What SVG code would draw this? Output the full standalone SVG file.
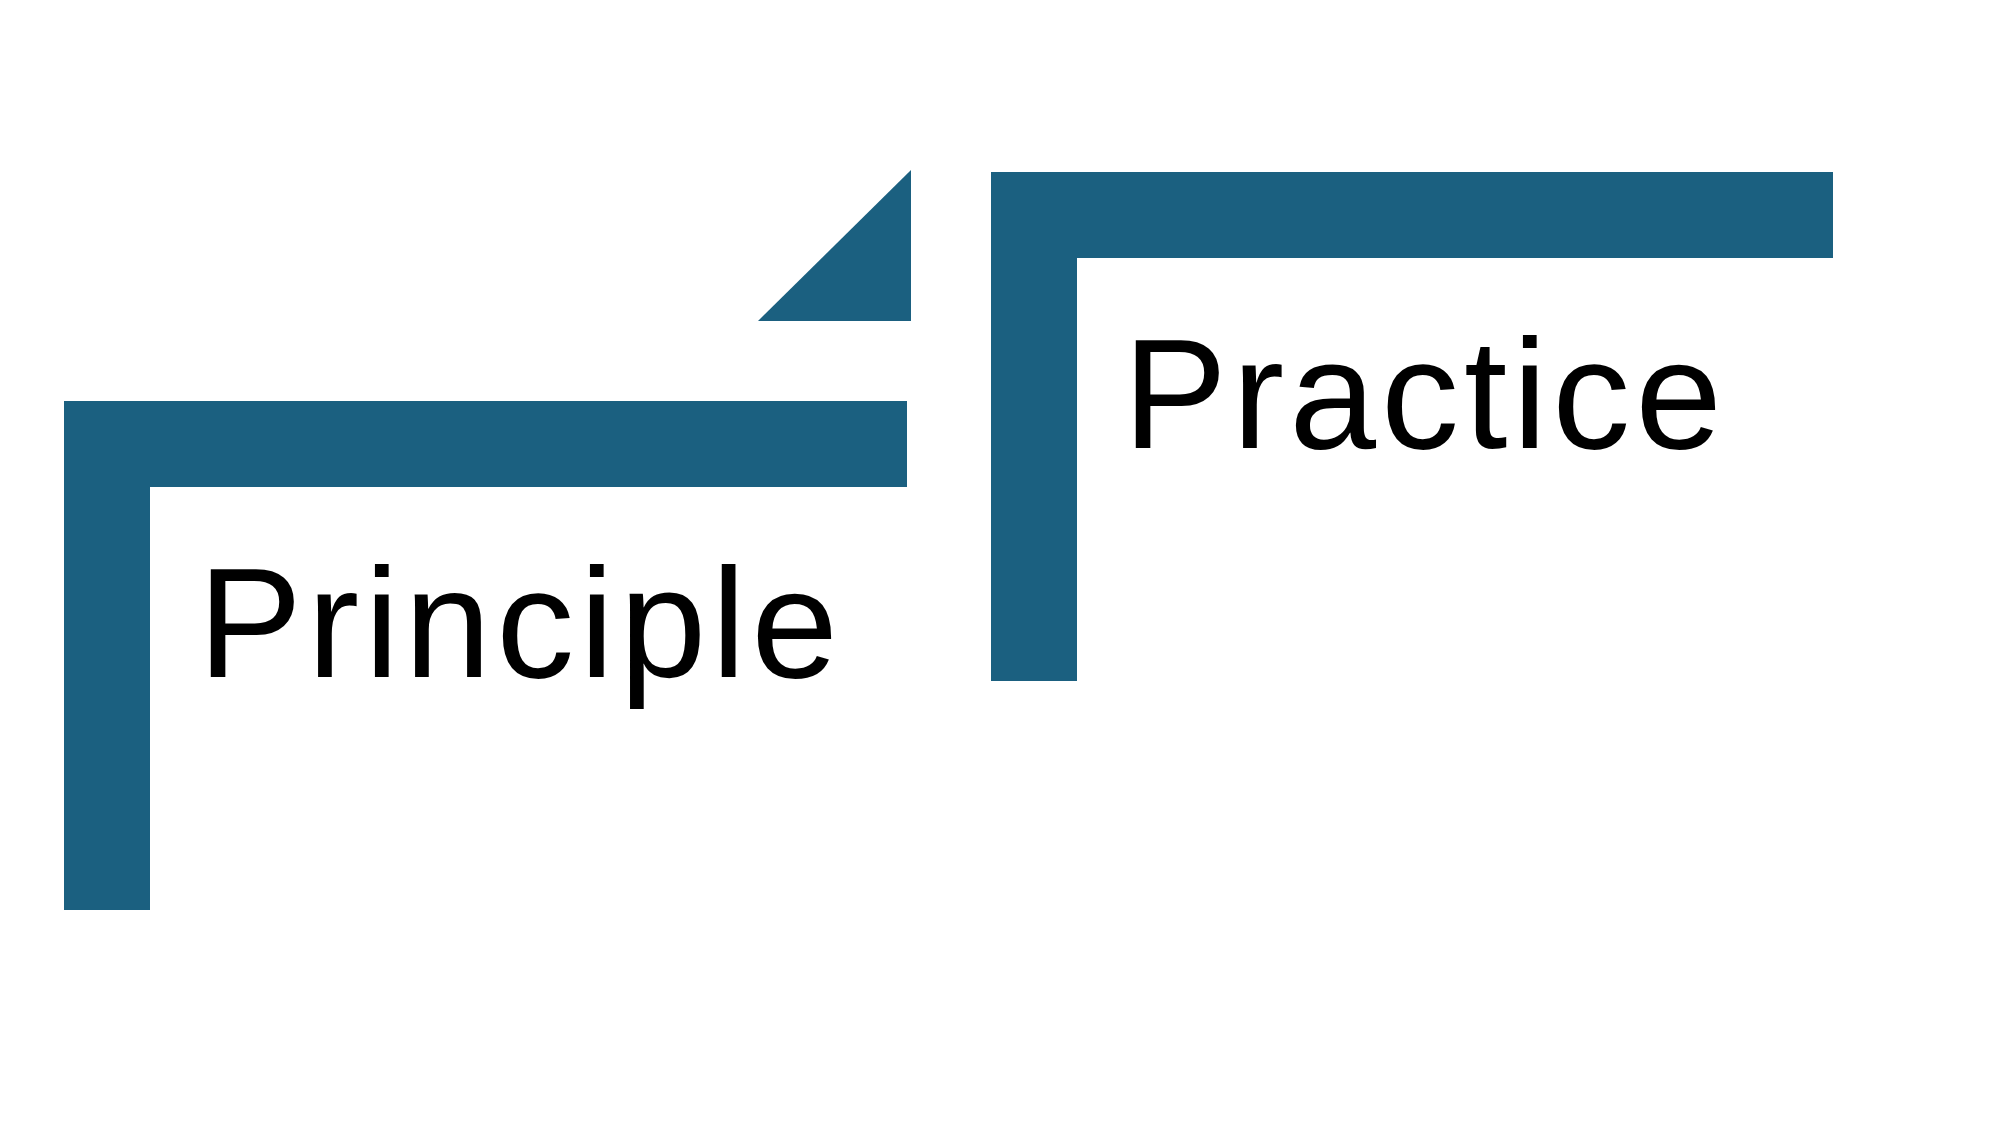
<svg xmlns="http://www.w3.org/2000/svg" width="1996" height="1128" viewBox="0 0 1996 1128">
<style>
.bar{fill:#1b6080}
.lbl{font-family:"Liberation Sans",Arial,sans-serif;font-size:156px;fill:#000}
</style>
<rect width="1996" height="1128" fill="#fff"/>
<g id="principle">
<path class="bar" d="M64 401 H907 V487 H150 V910 H64 Z"/>
<text class="lbl" x="198" y="677" textLength="640" lengthAdjust="spacing">Principle</text>
</g>
<g id="arrow-tip">
<polygon class="bar" points="911,170 911,321 758,321"/>
</g>
<g id="practice">
<path class="bar" d="M991 172 H1833 V258 H1077 V681 H991 Z"/>
<text class="lbl" x="1123" y="448" textLength="599" lengthAdjust="spacing">Practice</text>
</g>
</svg>
